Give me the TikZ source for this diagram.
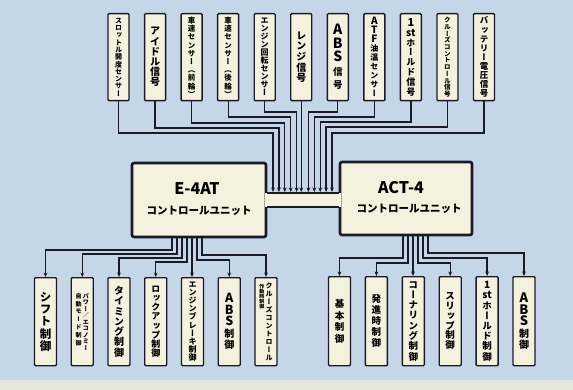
\documentclass[tikz,border=0pt]{standalone}
\usepackage{fontspec}
\setmainfont{Noto Sans CJK JP}
\newfontfamily\jpv[RawFeature=+vert]{Noto Sans CJK JP}
\usetikzlibrary{arrows.meta}
\definecolor{bgblue}{HTML}{C4D6E8}
\definecolor{stripcol}{HTML}{E4E6DA}
\definecolor{cream}{HTML}{F4F2DE}
\definecolor{ink}{HTML}{1A1A26}

\newcommand\bigletter[2]{\fontsize{#1}{#1}\selectfont #2}

\ExplSyntaxOn
\NewDocumentCommand \vtxt { m m m }
  {
    \group_begin:
    \jpv \bfseries \fontsize{#1}{#2} \selectfont
    \lineskiplimit = -\maxdimen
    \vtop
      {
        \tl_map_inline:nn {#3}
          { \hbox_to_wd:nn { 1.2em } { \hss ##1 \hss } }
      }
    \group_end:
  }
\ExplSyntaxOff

\tikzset{
  sbox/.style={draw=ink, fill=cream, line width=1.4pt, rounded corners=1pt,
    minimum width=21pt, inner sep=0pt, anchor=north},
  topbox/.style={sbox, minimum height=87pt},
  lbox/.style={sbox, minimum width=22pt, minimum height=88pt},
  rbox/.style={sbox, minimum width=22pt, minimum height=89pt},
  cbox/.style={draw=ink, fill=cream, line width=2.6pt, rounded corners=2pt, inner sep=0pt},
  wire/.style={draw=ink, line width=1.3pt},
  arr/.style={wire, -{Stealth[length=4.5pt,width=3.8pt]}},
  ctitle/.style={font=\bfseries\fontsize{16}{16}\selectfont, inner sep=0pt},
  csub/.style={font=\bfseries\fontsize{10.5}{10.5}\selectfont, inner sep=0pt},
}

\begin{document}
\begin{tikzpicture}[x=1pt,y=-1pt]
\useasboundingbox (0,0) rectangle (573,390);
\fill[bgblue] (0,0) rectangle (573,390);
\fill[stripcol] (0,380) rectangle (573,390);

% top input boxes
\node[topbox] (t1) at (118.5,13) {\vtxt{7}{7.3}{スロットル開度センサー}};
\node[topbox] (t2) at (155.05,13) {\vtxt{10}{10.2}{アイドル信号}};
\node[topbox] (t3) at (191.6,13) {\vtxt{7.5}{8.2}{車速センサー（前輪）}};
\node[topbox] (t4) at (228.15,13) {\vtxt{7.5}{8.2}{車速センサー（後輪）}};
\node[topbox] (t5) at (264.7,13) {\vtxt{8}{8}{エンジン回転センサー}};
\node[topbox] (t6) at (301.25,13) {\vtxt{10}{10.6}{レンジ信号}};
\node[topbox] (t7) at (337.8,13) {\vtxt{9.5}{13.5}{{\bigletter{14}{A}}{\bigletter{14}{B}}{\bigletter{14}{S}}信号}};
\node[topbox] (t8) at (374.35,13) {\vtxt{8}{9}{{\bigletter{10}{A}}{\bigletter{10}{T}}{\bigletter{10}{F}}油温センサー}};
\node[topbox] (t9) at (410.9,13) {\vtxt{9}{9.8}{{\bigletter{11}{1}}{\bigletter{10}{st}}ホールド信号}};
\node[topbox] (t10) at (447.45,13) {\vtxt{6.5}{6.7}{クルーズコントロール信号}};
\node[topbox] (t11) at (484,13) {\vtxt{8.5}{9.1}{バッテリー電圧信号}};

% control units
\node[cbox, minimum width=134pt, minimum height=74pt] (e4at) at (199,200) {};
\node[cbox, minimum width=132pt, minimum height=73pt] (act4) at (406,198.5) {};
\fill[cream] ([xshift=-2pt]e4at.east |- 0,193) rectangle ([xshift=2pt]act4.west |- 0,207);
\draw[ink, line width=2.6pt] (e4at.east |- 0,193) -- (act4.west |- 0,193);
\draw[ink, line width=2.6pt] (e4at.east |- 0,207) -- (act4.west |- 0,207);
\node[ctitle] (e4atA) at (197,189) {E-4AT};
\node[csub] (e4atB) at (199,211) {コントロールユニット};
\node[ctitle] (act4A) at (401,188) {ACT-4};
\node[csub] (act4B) at (409,209) {コントロールユニット};

% input arrows
\foreach \i in {1,...,11} \coordinate (in\i) at ({273+5.9*(\i-1)},192);
\foreach \i/\lev in {1/133,2/128,3/123,4/117,5/112,7/112,8/117,9/122,10/127,11/133}
  \draw[arr] (t\i.south) |- (in\i |- 0,\lev) -- (in\i);
\draw[arr] (t6.south) -- (t6.south |- in6);

% E-4AT outputs
\node[lbox] (l1) at (45.5,277) {\vtxt{11.5}{12.3}{シフト制御}};
\node[lbox] (l2) at (82.25,277) {\vtxt{6}{7.8}{自動モード制御}\vtxt{6}{6.5}{パワー／エコノミー}};
\node[lbox] (l3) at (119,277) {\vtxt{10}{10.3}{タイミング制御}};
\node[lbox] (l4) at (155.75,277) {\vtxt{9}{9.1}{ロックアップ制御}};
\node[lbox] (l5) at (192.5,277) {\vtxt{8}{8.2}{エンジンブレーキ制御}};
\node[lbox] (l6) at (229.25,277) {\vtxt{10}{11.5}{{\bigletter{12.5}{A}}{\bigletter{12.5}{B}}{\bigletter{12.5}{S}}制御}};
\node[lbox] (l7) at (266,277) {\vtxt{5}{5}{作動時制御}\vtxt{7}{8}{クルーズコントロール}};

\foreach \j in {1,...,7} \coordinate (eo\j) at ({172+5*(\j-1)},236);
\foreach \j/\lev in {1/250,2/254,3/258,4/262,6/260,7/255}
  \draw[arr] (eo\j) |- (l\j.north |- 0,\lev) -- (l\j.north);
\draw[arr] (eo5) -- (eo5 |- l5.north);

% ACT-4 outputs
\node[rbox] (r1) at (339.5,276) {\vtxt{9.5}{11.5}{基本制御}};
\node[rbox] (r2) at (376.4,276) {\vtxt{9.5}{11}{発進時制御}};
\node[rbox] (r3) at (413.3,276) {\vtxt{9.5}{10.3}{コーナリング制御}};
\node[rbox] (r4) at (450.2,276) {\vtxt{9.5}{9.8}{スリップ制御}};
\node[rbox] (r5) at (487.1,276) {\vtxt{9.5}{10.2}{{\bigletter{10}{1}}{\bigletter{10}{st}}ホールド制御}};
\node[rbox] (r6) at (524,276) {\vtxt{10}{11.5}{{\bigletter{13}{A}}{\bigletter{13}{B}}{\bigletter{13}{S}}制御}};

\foreach \k in {1,...,6} \coordinate (ao\k) at ({403+5*(\k-1)},234);
\foreach \k/\lev in {1/258,2/263,4/263,5/258,6/253}
  \draw[arr] (ao\k) |- (r\k.north |- 0,\lev) -- (r\k.north);
\draw[arr] (ao3) -- (ao3 |- r3.north);
\end{tikzpicture}
\end{document}
